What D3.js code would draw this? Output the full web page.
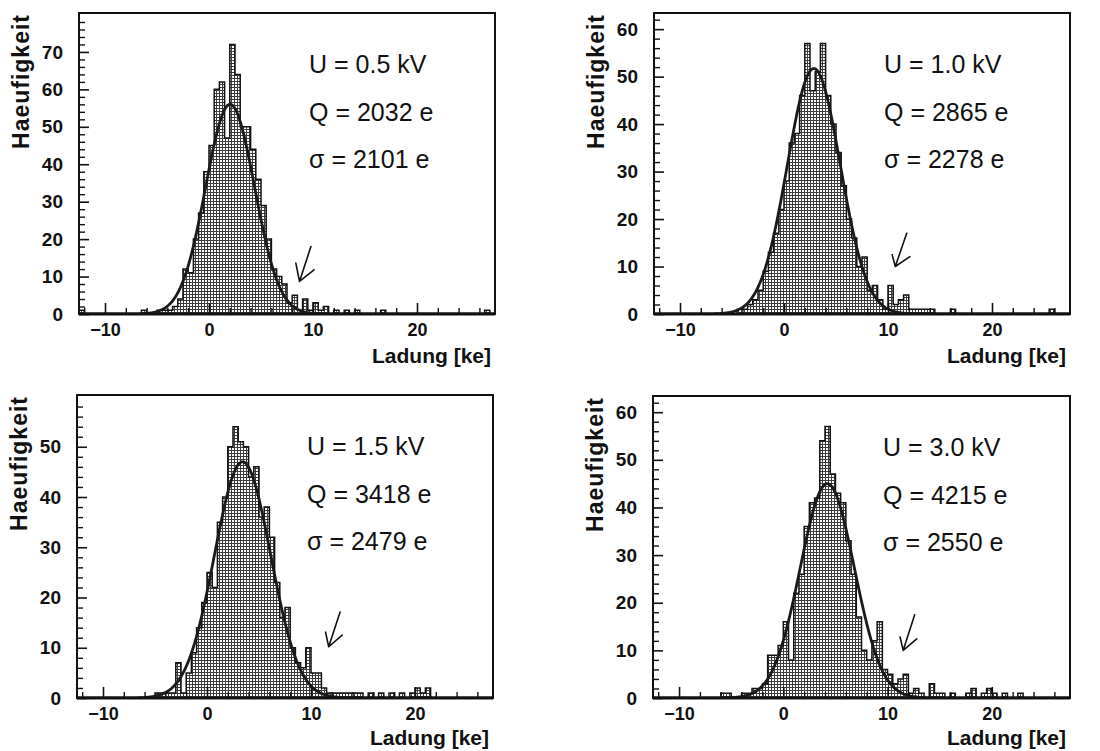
<!DOCTYPE html>
<html>
<head>
<meta charset="utf-8">
<script src="https://cdn.jsdelivr.net/npm/d3@7"></script>
<style>
  body { margin: 0; background: #fff; }
  text { font-family: "Liberation Sans", Arial, sans-serif; fill: #111; }
</style>
</head>
<body>
<script>
// Ladungsspektren bei verschiedenen Spannungen, Bins zu 0.5 ke von -12.5 bis 27.5
const binLo = -12.5, binHi = 27.5, binW = 0.5;

const counts05 = [1,0,0,0,0,0,0,0,0,0, 0,0,1,0,0,1,1,1,2,4, 12,11,20,27,38,45,60,62,47,72,
                  64,50,50,44,36,29,20,12,10,8, 3,5,1,4,1,3,1,2,0,1, 0,1,0,1,0,0,0,0,1,0,
                  0,0,0,0,0,0,0,0,0,0, 0,0,0,0,0,0,0,0,1,0];
const counts10 = [0,0,0,0,0,0,0,0,0,0, 0,0,0,0,0,0,1,1,2,3, 5,9,13,17,22,28,36,38,46,57,
                  47,51,57,46,40,34,27,20,16,10, 12,5,6,3,1,6,2,3,4,1, 1,1,1,1,0,0,0,1,0,0,
                  0,0,0,0,0,0,0,0,0,0, 0,0,0,0,0,0,1,0,0,0];
const counts15 = [0,0,0,0,0,0,0,0,0,0, 0,0,0,0,0,1,1,1,1,7, 1,5,9,14,19,25,22,35,40,50,
                  54,51,50,44,46,36,38,32,23,16, 18,10,7,6,10,5,5,2,1,1, 1,1,1,1,1,0,1,0,1,0,
                  1,0,1,0,1,2,1,2,0,0, 0,0,0,0,0,0,0,0,0,0];
const counts30 = [0,0,0,0,0,0,0,0,0,0, 0,0,0,1,1,0,0,1,1,2, 2,3,9,9,11,16,8,22,26,36,
                  41,42,54,57,47,43,41,33,26,17, 10,8,12,16,6,5,3,4,5,1, 2,1,0,3,1,1,0,1,0,0,
                  1,2,0,1,2,1,0,1,0,0, 1,0,0,0,0,0,0,0,0,0];

const voltLabels = ["U = 0.5 kV", "U = 1.0 kV", "U = 1.5 kV", "U = 3.0 kV"];
const chargeLabels = ["Q = 2032 e", "Q = 2865 e", "Q = 3418 e", "Q = 4215 e"];
const sigmaLabels = ["σ = 2101 e", "σ = 2278 e", "σ = 2479 e", "σ = 2550 e"];

// Gauss-Anpassung (ke)
const fitAmp = [56, 51.7, 47, 45];
const fitMean = [2.03, 2.87, 3.42, 4.22];
const fitSigma = [2.35, 2.55, 2.7, 2.6];

const yTop = [80.4, 63.4, 60.3, 63.4];
const xTicks = [-10, 0, 10, 20];

// Pfeile: Spitze, Schaftende, linker Haken, rechter Haken (ke, Eintraege)
const arrows = [
  [8.7, 8.7, 9.8, 18, 8.35, 13.6, 10.1, 11.8],
  [10.7, 10, 11.8, 17, 10.4, 12.5, 12.1, 12.1],
  [11.7, 10.2, 12.8, 17.1, 11.4, 13.1, 13.0, 12.5],
  [11.5, 10, 12.6, 17.5, 11.2, 12.8, 12.8, 12.4]
];

const allCounts = [counts05, counts10, counts15, counts30];

const frames = [
  { x: 79, y: 13, w: 416, h: 301 },
  { x: 654, y: 13, w: 416, h: 301 },
  { x: 77, y: 395, w: 416, h: 303 },
  { x: 653, y: 396, w: 417, h: 302 }
];

const width = 1100, height = 751;
const svg = d3.select("body").append("svg")
  .attr("width", width)
  .attr("height", height);

// Raster-Fuellmuster
const defs = svg.append("defs");
const pat = defs.append("pattern")
  .attr("id", "grid")
  .attr("width", 3).attr("height", 3)
  .attr("patternUnits", "userSpaceOnUse");
pat.append("rect").attr("width", 3).attr("height", 3).attr("fill", "#fff");
pat.append("path").attr("d", "M0,0.5H3M0.5,0V3")
  .attr("stroke", "#3c3c3c").attr("stroke-width", 1);

const tickFont = "Liberation Sans, Arial, sans-serif";

frames.forEach((f, i) => {
  const counts = allCounts[i];
  const x = d3.scaleLinear().domain([binLo, binHi]).range([f.x, f.x + f.w]);
  const y = d3.scaleLinear().domain([0, yTop[i]]).range([f.y + f.h, f.y]);

  defs.append("clipPath").attr("id", "clip" + i)
    .append("rect").attr("x", f.x).attr("y", f.y).attr("width", f.w).attr("height", f.h);

  const g = svg.append("g");
  const plot = g.append("g").attr("clip-path", `url(#clip${i})`);

  // Histogramm als Stufen
  const steps = [];
  counts.forEach((c, j) => {
    const x0 = binLo + j * binW;
    steps.push([x0, c], [x0 + binW, c]);
  });

  plot.append("path")
    .datum(steps)
    .attr("fill", "url(#grid)")
    .attr("d", d3.area().x(d => x(d[0])).y0(y(0)).y1(d => y(d[1])));

  plot.append("path")
    .datum(steps)
    .attr("fill", "none")
    .attr("stroke", "#111")
    .attr("stroke-width", 1.5)
    .attr("d", d3.line().x(d => x(d[0])).y(d => y(d[1])));

  // angepasste Gausskurve
  const fit = d3.range(binLo, binHi + 0.01, 0.05).map(v =>
    [v, fitAmp[i] * Math.exp(-0.5 * Math.pow((v - fitMean[i]) / fitSigma[i], 2))]);
  plot.append("path")
    .datum(fit)
    .attr("fill", "none")
    .attr("stroke", "#1a1a1a")
    .attr("stroke-width", 2.8)
    .attr("d", d3.line().x(d => x(d[0])).y(d => y(d[1])));

  // Achsen
  const yAxis = g.append("g")
    .attr("transform", `translate(${f.x},0)`)
    .call(d3.axisLeft(y).tickValues(d3.range(0, yTop[i] - 1, 10))
      .tickSizeInner(-10).tickSizeOuter(0).tickPadding(16).tickFormat(d3.format("d")));
  yAxis.select(".domain").remove();
  yAxis.selectAll("text").attr("font-size", 19).attr("font-weight", "bold")
    .attr("font-family", tickFont).attr("fill", "#111");
  yAxis.selectAll("line").attr("stroke", "#111").attr("stroke-width", 1.6);

  const yMinor = g.append("g")
    .attr("transform", `translate(${f.x},0)`)
    .call(d3.axisLeft(y).tickValues(d3.range(0, yTop[i], 2).filter(v => v % 10 !== 0))
      .tickSizeInner(-6).tickSizeOuter(0).tickFormat(""));
  yMinor.select(".domain").remove();
  yMinor.selectAll("line").attr("stroke", "#111").attr("stroke-width", 1.4);

  const xAxis = g.append("g")
    .attr("transform", `translate(0,${f.y + f.h})`)
    .call(d3.axisBottom(x).tickValues(xTicks)
      .tickSizeInner(-11).tickSizeOuter(0).tickPadding(9));
  xAxis.select(".domain").remove();
  xAxis.selectAll("text").attr("font-size", 18).attr("font-weight", "bold")
    .attr("font-family", tickFont).attr("fill", "#111");
  xAxis.selectAll("line").attr("stroke", "#111").attr("stroke-width", 1.6);

  const xMinor = g.append("g")
    .attr("transform", `translate(0,${f.y + f.h})`)
    .call(d3.axisBottom(x).tickValues(d3.range(-12, binHi, 2).filter(v => v % 10 !== 0))
      .tickSizeInner(-6).tickSizeOuter(0).tickFormat(""));
  xMinor.select(".domain").remove();
  xMinor.selectAll("line").attr("stroke", "#111").attr("stroke-width", 1.4);

  // Rahmen
  g.append("rect")
    .attr("x", f.x).attr("y", f.y).attr("width", f.w).attr("height", f.h)
    .attr("fill", "none").attr("stroke", "#111").attr("stroke-width", 2);
  g.append("line")
    .attr("x1", f.x).attr("x2", f.x + f.w)
    .attr("y1", y(0)).attr("y2", y(0))
    .attr("stroke", "#111").attr("stroke-width", 2.8);

  // Achsentitel
  g.append("text")
    .attr("transform", `translate(${f.x - 50},${f.y + 1}) rotate(-90)`)
    .attr("text-anchor", "end")
    .attr("font-size", 23).attr("font-weight", "bold")
    .attr("letter-spacing", 1)
    .text("Haeufigkeit");

  g.append("text")
    .attr("x", f.x + f.w - 4).attr("y", Math.min(f.y + f.h + 49, height - 6))
    .attr("text-anchor", "end")
    .attr("font-size", 21).attr("font-weight", "bold")
    .text("Ladung [ke]");

  // Beschriftung
  [voltLabels[i], chargeLabels[i], sigmaLabels[i]].forEach((t, k) => {
    g.append("text")
      .attr("x", f.x + 230).attr("y", f.y + 60 + k * 47.5)
      .attr("font-size", 25)
      .text(t);
  });

  // Pfeil
  const a = arrows[i];
  const line = d3.line().x(d => x(d[0])).y(d => y(d[1]));
  g.append("path")
    .attr("d", line([[a[2], a[3]], [a[0], a[1]]]) + line([[a[4], a[5]], [a[0], a[1]], [a[6], a[7]]]))
    .attr("fill", "none").attr("stroke", "#111").attr("stroke-width", 1.6)
    .attr("stroke-linejoin", "round").attr("stroke-linecap", "round");
});
</script>
</body>
</html>
